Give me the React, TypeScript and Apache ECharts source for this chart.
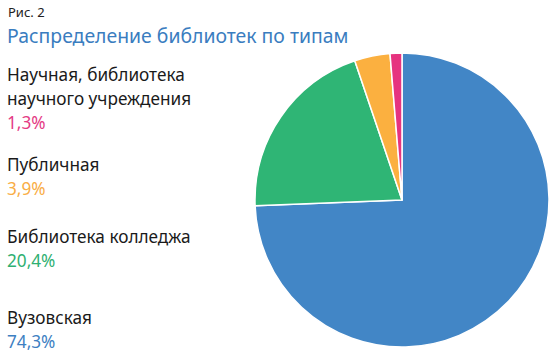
import React, { useEffect, useRef } from "react";
import * as echarts from "echarts";

const figureLabel = "Рис. 2";
const chartTitle = "Распределение библиотек по типам";
const categories = ["Вузовская", "Библиотека колледжа", "Публичная", "Научная, библиотека\nнаучного учреждения"];
const values = [74.3, 20.4, 3.9, 1.3];
const colors = ["#4286c6", "#2fb575", "#fbb040", "#e6337f"];
const valueColors = ["#3d80c2", "#2fb072", "#f9ad45", "#e43a84"];

// label block top positions (per category, same order)
const labelTops = [305, 224, 152, 62];

const fmt = (v: number) => v.toFixed(1).replace(".", ",") + "%";

export default function App() {
  const ref = useRef<HTMLDivElement>(null);
  useEffect(() => {
    if (!ref.current) return;
    const chart = echarts.init(ref.current, undefined, { renderer: "svg" });
    const font = "'Noto Sans', 'Open Sans', sans-serif";
    const graphics: any[] = [
      {
        type: "text",
        left: 8,
        top: 5,
        style: { text: figureLabel, font: `13px ${font}`, fill: "#222" },
      },
      {
        type: "text",
        left: 7,
        top: 26,
        style: { text: chartTitle, font: `19.4px ${font}`, fill: "#3a7dbf" },
      },
    ];
    categories.forEach((c, i) => {
      graphics.push({
        type: "text",
        left: 7,
        top: labelTops[i],
        style: { text: c, font: `17.2px ${font}`, fill: "#1a1a1a", lineHeight: 24 },
      });
      const lines = c.split("\n").length;
      graphics.push({
        type: "text",
        left: 7,
        top: labelTops[i] + 24 * lines,
        style: { text: fmt(values[i]), font: `17.2px ${font}`, fill: valueColors[i], lineHeight: 24 },
      });
    });
    chart.setOption({
      animation: false,
      graphic: graphics,
      series: [
        {
          type: "pie",
          center: [402, 200],
          radius: 147,
          startAngle: 90,
          clockwise: true,
          label: { show: false },
          labelLine: { show: false },
          itemStyle: { borderColor: "#fff", borderWidth: 1.5 },
          data: categories.map((c, i) => ({
            name: c,
            value: values[i],
            itemStyle: { color: colors[i] },
          })),
        },
      ],
    });
    return () => chart.dispose();
  }, []);
  return <div ref={ref} style={{ width: 560, height: 358, position: "absolute", left: 0, top: 0 }} />;
}
